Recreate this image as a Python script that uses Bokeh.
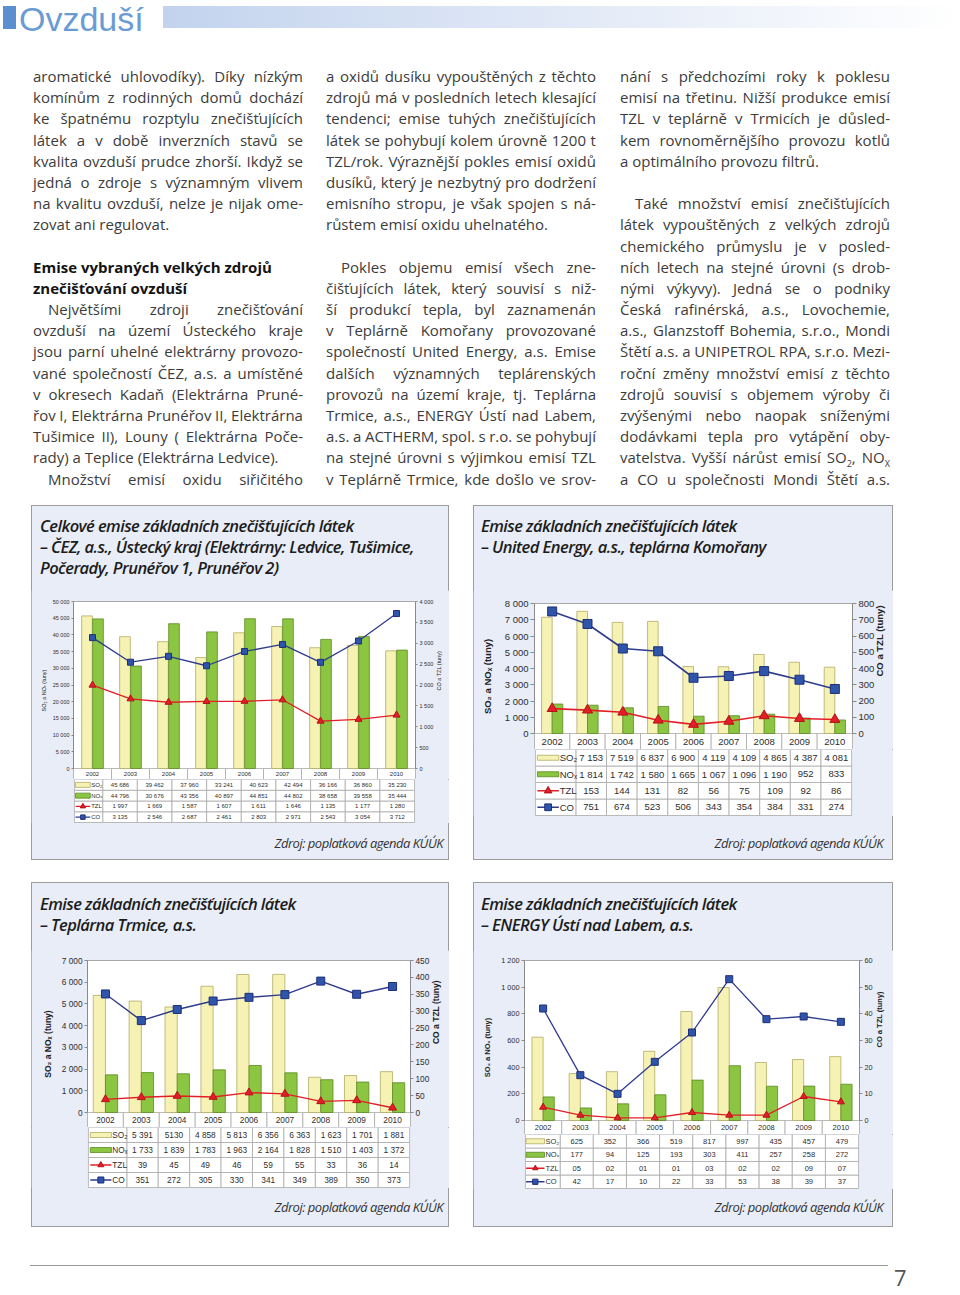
import math
from bokeh.plotting import figure
from bokeh.models import Range1d, FactorRange, LinearAxis, FixedTicker, ColumnDataSource, Div, Spacer
from bokeh.layouts import column, row
from bokeh.transform import dodge
from bokeh.embed import file_html
from bokeh.resources import INLINE
from bokeh.core.properties import value

# ---------------- data ----------------
years = ["2002", "2003", "2004", "2005", "2006", "2007", "2008", "2009", "2010"]

cez_so2 = [45686, 39462, 37960, 33241, 40623, 42494, 36166, 36860, 35230]
cez_nox = [44796, 30676, 43356, 40897, 44851, 44802, 38658, 39558, 35444]
cez_tzl = [1997, 1669, 1587, 1607, 1611, 1646, 1135, 1177, 1280]
cez_co = [3135, 2546, 2687, 2461, 2803, 2971, 2543, 3054, 3712]
cez_left_ticks = [0, 5000, 10000, 15000, 20000, 25000, 30000, 35000, 40000, 45000, 50000]
cez_right_ticks = [0, 500, 1000, 1500, 2000, 2500, 3000, 3500, 4000]

ue_so2 = [7153, 7519, 6837, 6900, 4119, 4109, 4865, 4387, 4081]
ue_nox = [1814, 1742, 1580, 1665, 1067, 1096, 1190, 952, 833]
ue_tzl = [153, 144, 131, 82, 56, 75, 109, 92, 86]
ue_co = [751, 674, 523, 506, 343, 354, 384, 331, 274]
ue_left_ticks = [0, 1000, 2000, 3000, 4000, 5000, 6000, 7000, 8000]
ue_right_ticks = [0, 100, 200, 300, 400, 500, 600, 700, 800]

tr_so2 = [5391, 5130, 4858, 5813, 6356, 6363, 1623, 1701, 1881]
tr_nox = [1733, 1839, 1783, 1963, 2164, 1828, 1510, 1403, 1372]
tr_tzl = [39, 45, 49, 46, 59, 55, 33, 36, 14]
tr_co = [351, 272, 305, 330, 341, 349, 389, 350, 373]
tr_left_ticks = [0, 1000, 2000, 3000, 4000, 5000, 6000, 7000]
tr_right_ticks = [0, 50, 100, 150, 200, 250, 300, 350, 400, 450]

en_so2 = [625, 352, 366, 519, 817, 997, 435, 457, 479]
en_nox = [177, 94, 125, 193, 303, 411, 257, 258, 272]
en_tzl = [5, 2, 1, 1, 3, 2, 2, 9, 7]
en_co = [42, 17, 10, 22, 33, 53, 38, 39, 37]
en_left_ticks = [0, 200, 400, 600, 800, 1000, 1200]
en_right_ticks = [0, 10, 20, 30, 40, 50, 60]

series_names = ["SO₂", "NOₓ", "TZL", "CO"]
left_title = "SO₂ a NOₓ (tuny)"
right_title = "CO a TZL (tuny)"
source_text = "Zdroj: poplatková agenda KÚÚK"


def sp(v):
    return f"{v:,}".replace(",", " ")


def z2(v):
    return f"{v:02d}"


def plain(v):
    return str(v)


# ---------------- style ----------------
BG = "#e8edf7"
CELL_LINE = "#a9a9a9"
SO2_FILL, SO2_LINE = "#f6f2b3", "#b3ab66"
NOX_FILL, NOX_LINE = "#8cc541", "#5a8a22"
TZL_COL = "#e21f27"
CO_LINE, CO_FILL = "#2f3c8e", "#2f55aa"
CHART_FONT = "Liberation Sans"
TITLE_FONT = "'Open Sans', sans-serif"
BODY_FONT = "'Open Sans', sans-serif"

boxes = [
    dict(W=418, H=355, pl=42, pw=342, pt=11, fh=167, tl=11, hdr=11, th=43,
         so2=cez_so2, nox=cez_nox, tzl=cez_tzl, co=cez_co,
         lt=cez_left_ticks, rt=cez_right_ticks,
         fmts=[sp, sp, sp, sp],
         fs=5.5, tfs=6, lfs=5.5, bold="normal", bw=0.28, off=0.145,
         ms_t=7, ms_s=6, lw=1.3, tick=2, lstand=3, rstand=3, sw=(0.04, 0.56),
         title=["Celkové emise základních znečišťujících látek",
                "– ČEZ, a.s., Ústecký kraj (Elektrárny: Ledvice, Tušimice,",
                "Počerady, Prunéřov 1, Prunéřov 2)"],
         title_h=85, tpad=9.5, tleft=9, src_h=37, src_pad=10, src_right=6),
    dict(W=420, H=355, pl=61, pw=320, pt=13, fh=130, tl=14, hdr=16, th=66,
         so2=ue_so2, nox=ue_nox, tzl=ue_tzl, co=ue_co,
         lt=ue_left_ticks, rt=ue_right_ticks,
         fmts=[sp, sp, sp, sp],
         fs=9.5, tfs=9.5, lfs=9.5, bold="bold", bw=0.3, off=0.15,
         ms_t=10, ms_s=9, lw=1.6, tick=4, lstand=9, rstand=2, sw=(0.05, 0.58),
         title=["Emise základních znečišťujících látek",
                "– United Energy, a.s., teplárna Komořany"],
         title_h=85, tpad=9.5, tleft=8, src_h=44, src_pad=17, src_right=10),
    dict(W=418, H=345, pl=56, pw=324, pt=10, fh=152, tl=12, hdr=15, th=60,
         so2=tr_so2, nox=tr_nox, tzl=tr_tzl, co=tr_co,
         lt=tr_left_ticks, rt=tr_right_ticks,
         fmts=[lambda v: plain(v) if v == 5130 else sp(v), sp, sp, sp],
         fs=8.3, tfs=8.3, lfs=8.5, bold="bold", bw=0.34, off=0.17,
         ms_t=8, ms_s=8, lw=1.4, tick=3, lstand=6, rstand=4, sw=(0.05, 0.6),
         title=["Emise základních znečišťujících látek",
                "– Teplárna Trmice, a.s."],
         title_h=68, tpad=10.5, tleft=9, src_h=39, src_pad=9, src_right=6),
    dict(W=420, H=345, pl=51, pw=335, pt=10, fh=160, tl=12, hdr=14, th=54,
         so2=en_so2, nox=en_nox, tzl=en_tzl, co=en_co,
         lt=en_left_ticks, rt=en_right_ticks,
         fmts=[sp, sp, z2, sp],
         fs=7.3, tfs=7.5, lfs=7.5, bold="bold", bw=0.3, off=0.15,
         ms_t=7, ms_s=7, lw=1.3, tick=3, lstand=6, rstand=4, sw=(0.02, 0.55),
         title=["Emise základních znečišťujících látek",
                "– ENERGY Ústí nad Labem, a.s."],
         title_h=68, tpad=10.5, tleft=8, src_h=38, src_pad=8, src_right=10),
]


def style_axis(ax, c, ticks, stand):
    ax.ticker = FixedTicker(ticks=ticks)
    ax.bounds = (ticks[0], ticks[-1])
    ax.major_label_overrides = {t: sp(t) for t in ticks}
    ax.axis_line_color = "#8a8a8a"
    ax.major_tick_line_color = "#8a8a8a"
    ax.major_tick_out = c["tick"]
    ax.major_tick_in = 0
    ax.minor_tick_line_color = None
    ax.major_label_text_font = CHART_FONT
    ax.major_label_text_font_size = f"{c['fs']}px"
    ax.major_label_text_color = "#2e2e2e"
    ax.major_label_standoff = 2
    ax.axis_label_text_font = CHART_FONT
    ax.axis_label_text_font_size = f"{c['lfs']}px"
    ax.axis_label_text_font_style = c["bold"]
    ax.axis_label_text_color = "#222222"
    ax.axis_label_standoff = stand


def make_box(c):
    W = c["W"]
    lmax = c["lt"][-1]
    rmax = c["rt"][-1]
    hfrac = c["hdr"] / c["fh"]          # header row height relative to the plot height
    src = ColumnDataSource(data=dict(year=years, so2=c["so2"], nox=c["nox"], tzl=c["tzl"], co=c["co"]))
    p = figure(x_range=FactorRange(factors=years), y_range=Range1d(-lmax * hfrac, lmax),
               width=W, height=c["pt"] + c["fh"] + c["hdr"],
               min_border_left=c["pl"], min_border_right=W - c["pl"] - c["pw"],
               min_border_top=c["pt"], min_border_bottom=0,
               x_axis_location=None, output_backend="svg", toolbar_location=None,
               background_fill_color="white", border_fill_color=BG,
               outline_line_color="#a8a8a8", margin=0)
    p.grid.visible = False
    p.extra_y_ranges = {"r": Range1d(-rmax * hfrac, rmax)}
    lax = p.left[0]
    style_axis(lax, c, c["lt"], c["lstand"])
    lax.axis_label = left_title
    rax = LinearAxis(y_range_name="r")
    style_axis(rax, c, c["rt"], c["rstand"])
    rax.axis_label = right_title
    try:
        rax.axis_label_orientation = math.pi / 2
    except Exception:
        pass
    p.add_layout(rax, "right")

    # header row of the data table (years) at the foot of the plot
    hy = -lmax * hfrac / 2
    p.rect(x=years, y=[hy] * 9, width=1, height=lmax * hfrac, fill_color="white",
           line_color=CELL_LINE, line_width=0.8)
    p.text(x=years, y=[hy] * 9, text=years, text_align="center", text_baseline="middle",
           text_font=value(CHART_FONT), text_font_size=value(f"{c['tfs']}px"), text_color="#2e2e2e")

    p.vbar(x=dodge("year", -c["off"], range=p.x_range), top="so2", width=c["bw"], source=src,
           fill_color=SO2_FILL, line_color=SO2_LINE, line_width=0.8)
    p.vbar(x=dodge("year", c["off"], range=p.x_range), top="nox", width=c["bw"], source=src,
           fill_color=NOX_FILL, line_color=NOX_LINE, line_width=0.8)
    p.line(x="year", y="tzl", source=src, y_range_name="r", line_color=TZL_COL, line_width=c["lw"])
    p.scatter(x="year", y="tzl", source=src, y_range_name="r", marker="triangle",
              size=c["ms_t"], fill_color=TZL_COL, line_color="#b51018")
    p.line(x="year", y="co", source=src, y_range_name="r", line_color=CO_LINE, line_width=c["lw"])
    p.scatter(x="year", y="co", source=src, y_range_name="r", marker="square",
              size=c["ms_s"], fill_color=CO_FILL, line_color="#1f2f78")

    # ---- data table rows under the chart ----
    cw = c["pw"] / 9.0
    leg = (c["pl"] - c["tl"]) / cw
    tw = c["pl"] + c["pw"] - c["tl"]
    rh = c["th"] / 4.0
    t = figure(x_range=Range1d(-leg - 1.0 / cw, 9 + 1.0 / cw), y_range=Range1d(-1.0 / rh, 4),
               width=W, height=c["th"] + 1,
               min_border_left=c["tl"] - 1, min_border_right=W - (c["tl"] - 1) - (tw + 2),
               min_border_top=0, min_border_bottom=0,
               x_axis_location=None, y_axis_location=None,
               output_backend="svg", toolbar_location=None,
               background_fill_color=BG, border_fill_color=BG, outline_line_color=None, margin=0)
    t.grid.visible = False
    cx, cy = [], []
    for r in range(4):
        for i in range(9):
            cx.append(i + 0.5)
            cy.append(r + 0.5)
    t.rect(x=cx, y=cy, width=1, height=1, fill_color="white", line_color=CELL_LINE, line_width=0.8)
    t.rect(x=[-leg / 2] * 4, y=[0.5, 1.5, 2.5, 3.5], width=leg, height=1,
           fill_color="white", line_color=CELL_LINE, line_width=0.8)

    tf = dict(text_font=value(CHART_FONT), text_font_size=value(f"{c['tfs']}px"),
              text_color="#2e2e2e", text_baseline="middle")
    rows = [c["so2"], c["nox"], c["tzl"], c["co"]]
    for k, (vals, fmt) in enumerate(zip(rows, c["fmts"])):
        yv = 3.5 - k
        t.text(x=[i + 0.5 for i in range(9)], y=[yv] * 9, text=[fmt(v) for v in vals],
               text_align="center", **tf)

    s0, s1 = c["sw"]
    x0 = -leg + leg * s0
    x1 = -leg + leg * s1
    xm = (x0 + x1) / 2
    t.rect(x=[xm, xm], y=[3.5, 2.5], width=x1 - x0, height=5, height_units="screen",
           fill_color=[SO2_FILL, NOX_FILL], line_color=[SO2_LINE, NOX_LINE], line_width=0.8)
    t.segment(x0=[x0, x0], y0=[1.5, 0.5], x1=[x1, x1], y1=[1.5, 0.5],
              line_color=[TZL_COL, CO_LINE], line_width=c["lw"])
    t.scatter(x=[xm], y=[1.5], marker="triangle", size=c["ms_t"] * 0.75,
              fill_color=TZL_COL, line_color="#b51018")
    t.scatter(x=[xm], y=[0.5], marker="square", size=c["ms_s"] * 0.75,
              fill_color=CO_FILL, line_color="#1f2f78")
    t.text(x=[x1 + 1.0 / cw] * 4, y=[3.5, 2.5, 1.5, 0.5], text=series_names,
           text_align="left", **tf)

    title_html = (f'<div style="padding:{c["tpad"]}px 0 0 {c["tleft"]}px;font-family:{TITLE_FONT};'
                  f'font-style:italic;font-weight:600;font-size:16.5px;letter-spacing:-0.55px;'
                  f'line-height:21px;color:#1c1c1c;white-space:nowrap;">'
                  + "<br>".join(c["title"]) + "</div>")
    tdiv = Div(text=title_html, width=W, height=c["title_h"], margin=0)
    src_html = (f'<div style="width:{W - c["src_right"]}px;padding-top:{c["src_pad"]}px;text-align:right;'
                f'font-family:{TITLE_FONT};font-style:italic;font-size:13px;letter-spacing:-0.5px;'
                f'line-height:20px;color:#333;">{source_text}</div>')
    sdiv = Div(text=src_html, width=W, height=c["src_h"], margin=0)
    return column(tdiv, p, t, sdiv, width=W, height=c["H"], spacing=0, margin=0,
                  styles={"background-color": BG, "outline": "1px solid #9c9c9c", "outline-offset": "-1px"})


# ---------------- body text ----------------
col1 = [
    ("j", "aromatické uhlovodíky). Díky nízkým"),
    ("j", "komínům z rodinných domů dochází"),
    ("j", "ke špatnému rozptylu znečišťujících"),
    ("j", "látek a v době inverzních stavů se"),
    ("j", "kvalita ovzduší prudce zhorší. Ikdyž se"),
    ("j", "jedná o zdroje s významným vlivem"),
    ("j", "na kvalitu ovzduší, nelze je nijak ome-"),
    ("l", "zovat ani regulovat."),
    ("e", ""),
    ("b", "Emise vybraných velkých zdrojů"),
    ("b", "znečišťování ovzduší"),
    ("ji", "Největšími zdroji znečišťování"),
    ("j", "ovzduší na území Ústeckého kraje"),
    ("j", "jsou parní uhelné elektrárny provozo-"),
    ("j", "vané společností ČEZ, a.s. a umístěné"),
    ("j", "v okresech Kadaň (Elektrárna Pruné-"),
    ("j", "řov I, Elektrárna Prunéřov II, Elektrárna"),
    ("j", "Tušimice II), Louny ( Elektrárna Poče-"),
    ("l", "rady) a Teplice (Elektrárna Ledvice)."),
    ("ji", "Množství emisí oxidu siřičitého"),
]
col2 = [
    ("j", "a oxidů dusíku vypouštěných z těchto"),
    ("j", "zdrojů má v posledních letech klesající"),
    ("j", "tendenci; emise tuhých znečišťujících"),
    ("j", "látek se pohybují kolem úrovně 1200 t"),
    ("j", "TZL/rok. Výraznější pokles emisí oxidů"),
    ("j", "dusíků, který je nezbytný pro dodržení"),
    ("j", "emisního stropu, je však spojen s ná-"),
    ("l", "růstem emisí oxidu uhelnatého."),
    ("e", ""),
    ("ji", "Pokles objemu emisí všech zne-"),
    ("j", "čišťujících látek, který souvisí s niž-"),
    ("j", "ší produkcí tepla, byl zaznamenán"),
    ("j", "v Teplárně Komořany provozované"),
    ("j", "společností United Energy, a.s. Emise"),
    ("j", "dalších významných teplárenských"),
    ("j", "provozů na území kraje, tj. Teplárna"),
    ("j", "Trmice, a.s., ENERGY Ústí nad Labem,"),
    ("j", "a.s. a ACTHERM, spol. s r.o. se pohybují"),
    ("j", "na stejné úrovni s výjimkou emisí TZL"),
    ("j", "v Teplárně Trmice, kde došlo ve srov-"),
]
col3 = [
    ("j", "nání s předchozími roky k poklesu"),
    ("j", "emisí na třetinu. Nižší produkce emisí"),
    ("j", "TZL v teplárně v Trmicích je důsled-"),
    ("j", "kem rovnoměrnějšího provozu kotlů"),
    ("l", "a optimálního provozu filtrů."),
    ("e", ""),
    ("ji", "Také množství emisí znečišťujících"),
    ("j", "látek vypouštěných z velkých zdrojů"),
    ("j", "chemického průmyslu je v posled-"),
    ("j", "ních letech na stejné úrovni (s drob-"),
    ("j", "nými výkyvy). Jedná se o podniky"),
    ("j", "Česká rafinérská, a.s., Lovochemie,"),
    ("j", "a.s., Glanzstoff Bohemia, s.r.o., Mondi"),
    ("j", "Štětí a.s. a UNIPETROL RPA, s.r.o. Mezi-"),
    ("j", "roční změny množství emisí z těchto"),
    ("j", "zdrojů souvisí s objemem výroby či"),
    ("j", "zvýšenými nebo naopak sníženými"),
    ("j", "dodávkami tepla pro vytápění oby-"),
    ("j", "vatelstva. Vyšší nárůst emisí SO{2}, NO{X}"),
    ("j", "a CO u společnosti Mondi Štětí a.s."),
]


def sub(txt):
    for s in ("2", "X"):
        txt = txt.replace("{" + s + "}", f"<sub style='font-size:9px;line-height:0;'>{s}</sub>")
    return txt


def text_column(lines, width):
    out = []
    base = "height:21.2px;line-height:21.2px;white-space:nowrap;"
    for kind, txt in lines:
        if kind == "e":
            out.append(f'<div style="{base}">&nbsp;</div>')
        elif kind in ("j", "ji"):
            pad = "padding-left:15px;" if kind == "ji" else ""
            words = txt.split(" ")
            spans = "".join(f"<span>{sub(w)} </span>" for w in words)
            out.append(f'<div style="{base}{pad}display:flex;justify-content:space-between;column-gap:3px;">{spans}</div>')
        elif kind == "b":
            out.append(f'<div style="{base}font-weight:700;color:#141414;">{txt}</div>')
        else:
            out.append(f'<div style="{base}">{sub(txt)}</div>')
    html = (f'<div style="width:{width}px;font-family:{BODY_FONT};font-size:15px;font-weight:400;'
            f'color:#3c3c3c;">' + "".join(out) + "</div>")
    return Div(text=html, width=width, height=439, margin=0)


header_html = (
    '<div style="position:relative;width:960px;height:66px;">'
    '<div style="position:absolute;left:3px;top:6px;width:13px;height:23px;background:#5a90d2;"></div>'
    '<div style="position:absolute;left:19px;top:0px;font-family:\'Liberation Sans\', sans-serif;'
    'font-size:34px;line-height:38px;color:#6b9bd4;">Ovzduší</div>'
    '<div style="position:absolute;left:163px;top:6px;width:797px;height:22px;'
    'background:linear-gradient(to right,#c3d3ee,#ffffff);"></div>'
    '</div>'
)
header = Div(text=header_html, width=960, height=66, margin=0)

text_row = row(Spacer(width=33, height=439, margin=0), text_column(col1, 270),
               Spacer(width=23, height=439, margin=0), text_column(col2, 270),
               Spacer(width=24, height=439, margin=0), text_column(col3, 270),
               spacing=0, margin=0)

b1, b2, b3, b4 = [make_box(c) for c in boxes]
row1 = row(Spacer(width=31, height=355, margin=0), b1, Spacer(width=24, height=355, margin=0), b2,
           spacing=0, margin=0)
row2 = row(Spacer(width=31, height=345, margin=0), b3, Spacer(width=24, height=345, margin=0), b4,
           spacing=0, margin=0)

footer_html = (
    '<div style="position:relative;width:960px;height:68px;">'
    '<div style="position:absolute;left:30px;top:38px;width:858px;height:0;border-top:1px solid #9a9a9a;"></div>'
    f'<div style="position:absolute;left:894px;top:36px;font-family:{BODY_FONT};font-size:22px;'
    'line-height:28px;color:#555;">7</div>'
    '</div>'
)
footer = Div(text=footer_html, width=960, height=68, margin=0)

page = column(header, text_row, row1, Spacer(width=960, height=22, margin=0), row2, footer,
              spacing=0, margin=0, width=960, height=1295)

open("out.html", "w").write(file_html(page, INLINE, title="Ovzduší"))
